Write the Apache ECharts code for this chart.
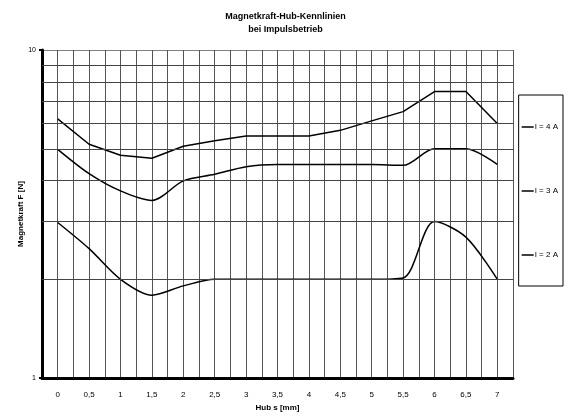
<!DOCTYPE html>
<html><head><meta charset="utf-8">
<script src="https://cdn.jsdelivr.net/npm/echarts@6/dist/echarts.min.js"></script>
<style>html,body{margin:0;padding:0;background:#fff}#c{width:571px;height:417px}</style>
</head><body><div id="c"></div>
<script>
const hub = [0,0.5,1,1.5,2,2.5,3,3.5,4,4.5,5,5.5,6,6.5,7];
const i4 = [6.17,5.16,4.78,4.68,5.09,5.29,5.47,5.47,5.47,5.69,6.08,6.49,7.47,7.47,5.97];
const i3 = [4.98,4.20,3.72,3.48,3.99,4.18,4.41,4.48,4.48,4.48,4.48,4.45,5.0,5.0,4.48];
const i2 = [2.98,2.48,2.0,1.79,1.91,2.0,2.0,2.0,2.0,2.0,2.0,2.02,3.0,2.69,2.0];
const seriesNames = ['I = 4 A','I = 3 A','I = 2 A'];
const yGrid = [2,3,4,5,6,7,8,9];
const FONT = '"Liberation Sans Narrow","Liberation Sans",Arial,sans-serif';

const pairs = arr => hub.map((h,i)=>[h,arr[i]]);
const chart = echarts.init(document.getElementById('c'), null, {renderer:'canvas'});
chart.setOption({
  animation:false,
  title:{text:'Magnetkraft-Hub-Kennlinien\nbei Impulsbetrieb', left:'center', top:5,
    textStyle:{fontFamily:FONT,fontSize:9,fontWeight:'bold',color:'#000',lineHeight:13}},
  legend:{orient:'vertical', right:8, top:95, data:seriesNames, icon:'rect', itemWidth:12, itemHeight:1.5,
    itemGap:56, padding:[28,5,27,3], borderColor:'#000', borderWidth:1, backgroundColor:'#fff',
    textStyle:{fontFamily:FONT,fontSize:8,color:'#000',padding:[0,0,0,-4]}},
  grid:{left:42,right:58,top:50,bottom:37},
  xAxis:{type:'value', min:-0.25, max:7.25, interval:0.25,
    name:'Hub s [mm]', nameLocation:'middle', nameGap:25,
    nameTextStyle:{fontFamily:FONT,fontSize:8,fontWeight:'bold',color:'#000'},
    axisLine:{show:true,onZero:false,lineStyle:{color:'#000',width:3}},
    axisTick:{show:false},
    axisLabel:{margin:13,fontFamily:FONT,fontSize:8,color:'#000',showMinLabel:true,showMaxLabel:true,
      formatter:v=>{const d=Math.round(v*4);if(d%2!==0||v<0||v>7)return '';return String(Math.round(v*2)/2).replace('.',',');}},
    splitLine:{show:true,lineStyle:{color:'#555',width:1}}},
  yAxis:{type:'log', logBase:10, min:1, max:10,
    name:'Magnetkraft F [N]', nameLocation:'middle', nameGap:17, nameMoveOverlap:false,
    nameTextStyle:{fontFamily:FONT,fontSize:8,fontWeight:'bold',color:'#000'},
    axisLine:{show:true,onZero:false,lineStyle:{color:'#000',width:3}},
    axisTick:{show:true,length:3,lineStyle:{color:'#000',width:2}},
    axisLabel:{margin:6,fontFamily:FONT,fontSize:7,color:'#000'},
    splitLine:{show:true,lineStyle:{color:'#808080',width:1}}},
  series:[
    {name:seriesNames[0], type:'line', data:pairs(i4), showSymbol:false, smooth:false,
      lineStyle:{color:'#000',width:1.5}, itemStyle:{color:'#000'},
      markLine:{silent:true, symbol:'none', label:{show:false}, lineStyle:{color:'#444',width:1,type:'solid'},
        data:yGrid.map(v=>({yAxis:v}))}},
    {name:seriesNames[1], type:'line', data:pairs(i3), showSymbol:false, smooth:0.3,
      lineStyle:{color:'#000',width:1.5}, itemStyle:{color:'#000'}},
    {name:seriesNames[2], type:'line', data:pairs(i2), showSymbol:false, smooth:0.3,
      lineStyle:{color:'#000',width:1.5}, itemStyle:{color:'#000'}}
  ]
});
</script></body></html>
